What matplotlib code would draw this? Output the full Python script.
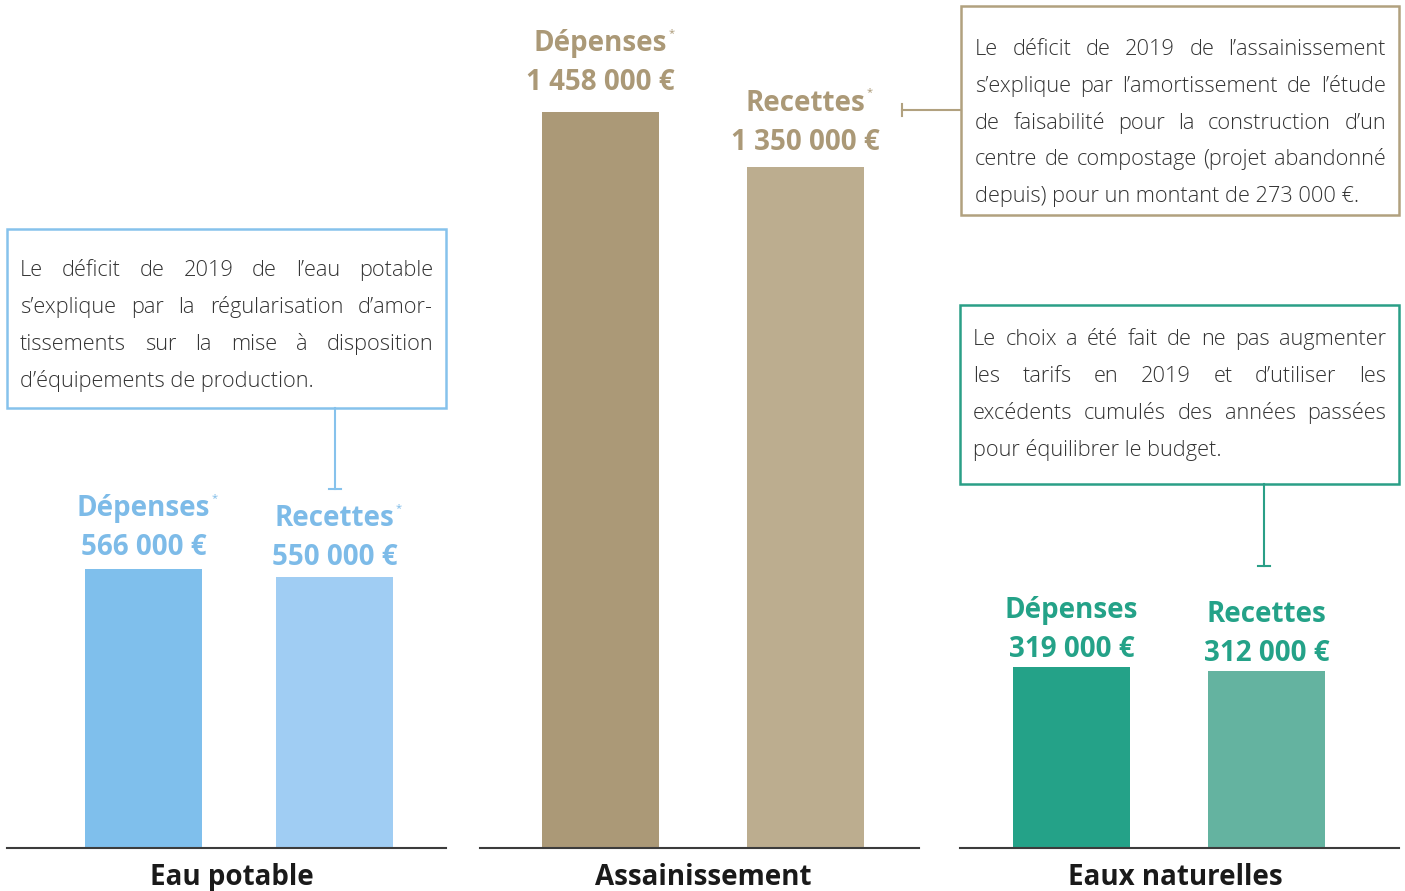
import matplotlib
matplotlib.use("Agg")
import matplotlib.pyplot as plt
from matplotlib.patches import Rectangle
from matplotlib.lines import Line2D

# ---------------- data ----------------
categories = ["Eau potable", "Assainissement", "Eaux naturelles"]
series_names = ["Dépenses", "Recettes"]
depenses = [566000, 1458000, 319000]
recettes = [550000, 1350000, 312000]
marked = [True, True, False]  # asterisk after series names

notes = [
    ["Le déficit de 2019 de l’eau potable",
     "s’explique par la régularisation d’amor-",
     "tissements sur la mise à disposition",
     "d’équipements de production."],
    ["Le déficit de 2019 de l’assainissement",
     "s’explique par l’amortissement de l’étude",
     "de faisabilité pour la construction d’un",
     "centre de compostage (projet abandonné",
     "depuis) pour un montant de 273 000 €."],
    ["Le choix a été fait de ne pas augmenter",
     "les tarifs en 2019 et d’utiliser les",
     "excédents cumulés des années passées",
     "pour équilibrer le budget."],
]

# ---------------- style ----------------
dep_colors = ["#7fbfec", "#ab9977", "#24a288"]
rec_colors = ["#a0cdf3", "#bcad8f", "#64b3a0"]
label_colors = ["#7dbbe8", "#ab9977", "#24a288"]
box_colors = ["#86c2ec", "#b1a17f", "#2a9f87"]
text_color = "#333333"
FAM = ["Open Sans", "DejaVu Sans"]
plt.rcParams["font.family"] = FAM

W, H, DPI = 1405, 891, 100

# layout in pixels (top-left origin)
panel_x = [(7, 446), (480, 919), (960, 1399)]
bar_cx = [(143.5, 334.5), (600.5, 805.5), (1071.5, 1266.5)]
bar_w = 117
baseline_y = 848
top_value = [1720000, 1680000, 1494600]
value_gap = [(14, 12), (22, 17), (10, 10)]
label_gap = 39
cat_cx = [232, 703.5, 1175.5]
cat_base = 885
LABEL_SIZE = 20

boxes = [(7, 229, 446, 408), (961, 6, 1399, 215), (960, 305, 1399, 484)]
text_x = [(20, 433), (975, 1386), (973, 1386)]
first_base = [276, 55, 345]
line_dy = [37, 36.8, 37]


def fx(x):
    return x / W


def fy(y):
    return 1 - y / H


fig = plt.figure(figsize=(W / DPI, H / DPI), dpi=DPI)
fig.patch.set_facecolor("white")
renderer = fig.canvas.get_renderer()


def fmt(v):
    return f"{v:,}".replace(",", " ") + " €"


for i in range(3):
    x0, x1 = panel_x[i]
    ax = fig.add_axes([fx(x0), fy(baseline_y), (x1 - x0) / W, baseline_y / H])
    ax.set_facecolor("none")
    ax.set_xlim(0, x1 - x0)
    ax.set_ylim(0, top_value[i])
    for s in ["top", "left", "right"]:
        ax.spines[s].set_visible(False)
    ax.spines["bottom"].set_color("#3c3c3c")
    ax.spines["bottom"].set_linewidth(1.5)
    ax.set_xticks([])
    ax.set_yticks([])
    vals = [depenses[i], recettes[i]]
    cols = [dep_colors[i], rec_colors[i]]
    for j in range(2):
        cx = bar_cx[i][j] - x0
        ax.bar(cx, vals[j], width=bar_w, color=cols[j], zorder=2)
        g = value_gap[i][j]
        ax.annotate(fmt(vals[j]), xy=(cx, vals[j]), xytext=(0, g),
                    textcoords="offset pixels", ha="center", va="baseline",
                    fontsize=LABEL_SIZE, fontweight="bold",
                    color=label_colors[i], annotation_clip=False)
        lab = ax.annotate(series_names[j], xy=(cx, vals[j]),
                          xytext=(0, g + label_gap),
                          textcoords="offset pixels", ha="center",
                          va="baseline", fontsize=LABEL_SIZE,
                          fontweight="bold", color=label_colors[i],
                          annotation_clip=False)
        if marked[i]:
            ext = lab.get_window_extent(renderer)
            bar_top_disp = ax.transData.transform((cx, vals[j]))[1]
            ytop = bar_top_disp + g + label_gap + 23
            fig.text((ext.x1 + 1) / W, ytop / H, "*", ha="left", va="top",
                     fontsize=8, color=label_colors[i])
    fig.text(fx(cat_cx[i]), fy(cat_base), categories[i], ha="center",
             va="baseline", fontsize=LABEL_SIZE, fontweight="bold",
             color="#1a1a1a")

# note boxes
for i in range(3):
    bx0, by0, bx1, by1 = boxes[i]
    fig.add_artist(Rectangle((fx(bx0), fy(by1)), (bx1 - bx0) / W,
                             (by1 - by0) / H, transform=fig.transFigure,
                             fill=False, ec=box_colors[i], lw=1.8))

# connectors
conn = [
    ([(335, 408), (335, 489)], [(329, 489), (341, 489)]),
    ([(961, 110), (902, 110)], [(902, 104), (902, 116)]),
    ([(1264, 484), (1264, 566)], [(1258, 566), (1270, 566)]),
]
for i, segs in enumerate(conn):
    for seg in segs:
        (ax0, ay0), (ax1, ay1) = seg
        fig.add_artist(Line2D([fx(ax0), fx(ax1)], [fy(ay0), fy(ay1)],
                              transform=fig.transFigure, color=box_colors[i],
                              lw=1.5))

BODY_W = "light"


# fit body font size
def measure(s, size):
    t = fig.text(0, 0, s, fontsize=size, family=FAM, fontweight=BODY_W)
    w = t.get_window_extent(renderer).width
    t.remove()
    return w


trial = 18
scale = 10
for i in range(3):
    avail = text_x[i][1] - text_x[i][0]
    for ln in notes[i]:
        w = measure(ln, trial)
        scale = min(scale, avail / w)
body_size = min(17, trial * scale * 0.995)

for i in range(3):
    xl, xr = text_x[i]
    avail = xr - xl
    n = len(notes[i])
    for k, ln in enumerate(notes[i]):
        y = first_base[i] + k * line_dy[i]
        words = ln.split(" ")
        if k == n - 1 or len(words) == 1:
            fig.text(fx(xl), fy(y), ln, ha="left", va="baseline",
                     fontsize=body_size, color=text_color,
                     fontweight=BODY_W)
            continue
        widths = [measure(wd, body_size) for wd in words]
        gap = (avail - sum(widths)) / (len(words) - 1)
        x = xl
        for wd, wdt in zip(words, widths):
            fig.text(fx(x), fy(y), wd, ha="left", va="baseline",
                     fontsize=body_size, color=text_color,
                     fontweight=BODY_W)
            x += wdt + gap

fig.savefig("out.png", dpi=DPI)
